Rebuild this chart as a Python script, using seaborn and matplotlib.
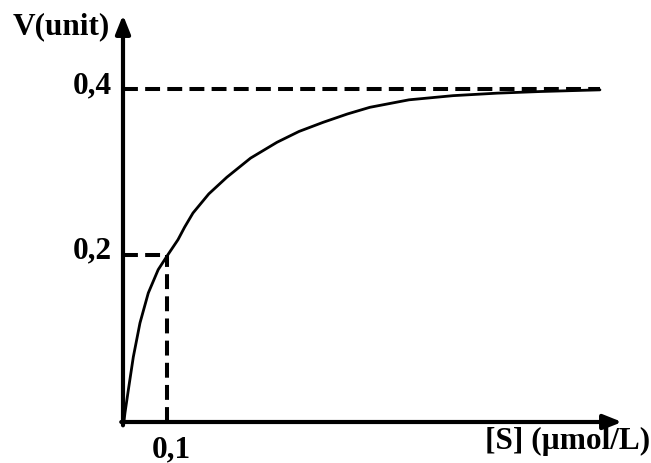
"""
Enzyme kinetics sketch: reaction rate V against substrate concentration [S].
"""

# Imports
import numpy as np
import pandas as pd
import matplotlib
matplotlib.use('Agg')
import matplotlib.pyplot as plt
import seaborn as sns

# Environment settings
sns.set_theme(style='white')
plt.rcParams['font.family'] = ['Liberation Serif', 'DejaVu Serif']

# Data
substrate = [0.002, 0.0045, 0.012, 0.0234, 0.0386, 0.0575, 0.080, 0.1016, 0.125,
             0.14, 0.159, 0.195, 0.236, 0.29, 0.35, 0.40, 0.455, 0.51, 0.561,
             0.65, 0.75, 0.85, 0.95, 1.084]
velocity = [0.0, 0.011, 0.038, 0.078, 0.119, 0.155, 0.183, 0.2006, 0.219,
            0.234, 0.251, 0.274, 0.294, 0.317, 0.336, 0.349, 0.360, 0.370, 0.378,
            0.387, 0.392, 0.395, 0.397, 0.399]
v_max = 0.4
k_m = 0.1
half_v = 0.2
x_end = 1.084
x_label = '[S] (µmol/L)'
y_label = 'V(unit)'
y_ticks = ['0,4', '0,2']
x_ticks = ['0,1']

curve_df = pd.DataFrame({'S': substrate, 'V': velocity})

# Pixel layout -> data limits (origin at px 123, 422)
px_x, px_y = 440.0, 832.5
fig = plt.figure(figsize=(6.51, 4.63), dpi=100)
ax = fig.add_axes([0, 0, 1, 1])
ax.set_xlim(-123 / px_x, 528 / px_x)
ax.set_ylim(-41 / px_y, 422 / px_y)
ax.axis('off')

# Curve
sns.lineplot(data=curve_df, x='S', y='V', ax=ax, color='black', lw=2.0,
             sort=False, estimator=None)

# Dashed guide lines
dash_kw = dict(color='black', lw=2.9, linestyle=(0, (3.7, 1.8)))
ax.plot([0, x_end], [v_max, v_max], **dash_kw)
ax.plot([0, k_m], [half_v, half_v], **dash_kw)
ax.plot([k_m, k_m], [0, half_v], **dash_kw)

# Axes with arrows
x_tip = (622 - 123) / px_x
y_tip = (422 - 15) / px_y
arrow_kw = dict(arrowstyle='-|>,head_length=0.55,head_width=0.22', lw=3.0,
                color='black', mutation_scale=20, shrinkA=0, shrinkB=0)
ax.annotate('', xy=(x_tip, 0), xytext=(-0.004, 0), arrowprops=arrow_kw)
ax.annotate('', xy=(0, y_tip), xytext=(0, -0.004), arrowprops=arrow_kw)

# Labels
txt_kw = dict(fontsize=22.5, fontweight='bold', color='black')
ax.text(-13 / px_x, (422 - 27) / px_y, y_label, ha='right', va='center', **txt_kw)
ax.text(-11 / px_x, v_max + 3 / px_y, y_ticks[0], ha='right', va='center', **txt_kw)
ax.text(-11 / px_x, half_v + 5 / px_y, y_ticks[1], ha='right', va='center', **txt_kw)
ax.text(k_m + 4 / px_x, -28 / px_y, x_ticks[0], ha='center', va='center', **txt_kw)
ax.text(527 / px_x, -19 / px_y, x_label, ha='right', va='center', **txt_kw)

fig.savefig('out.png', dpi=100)
